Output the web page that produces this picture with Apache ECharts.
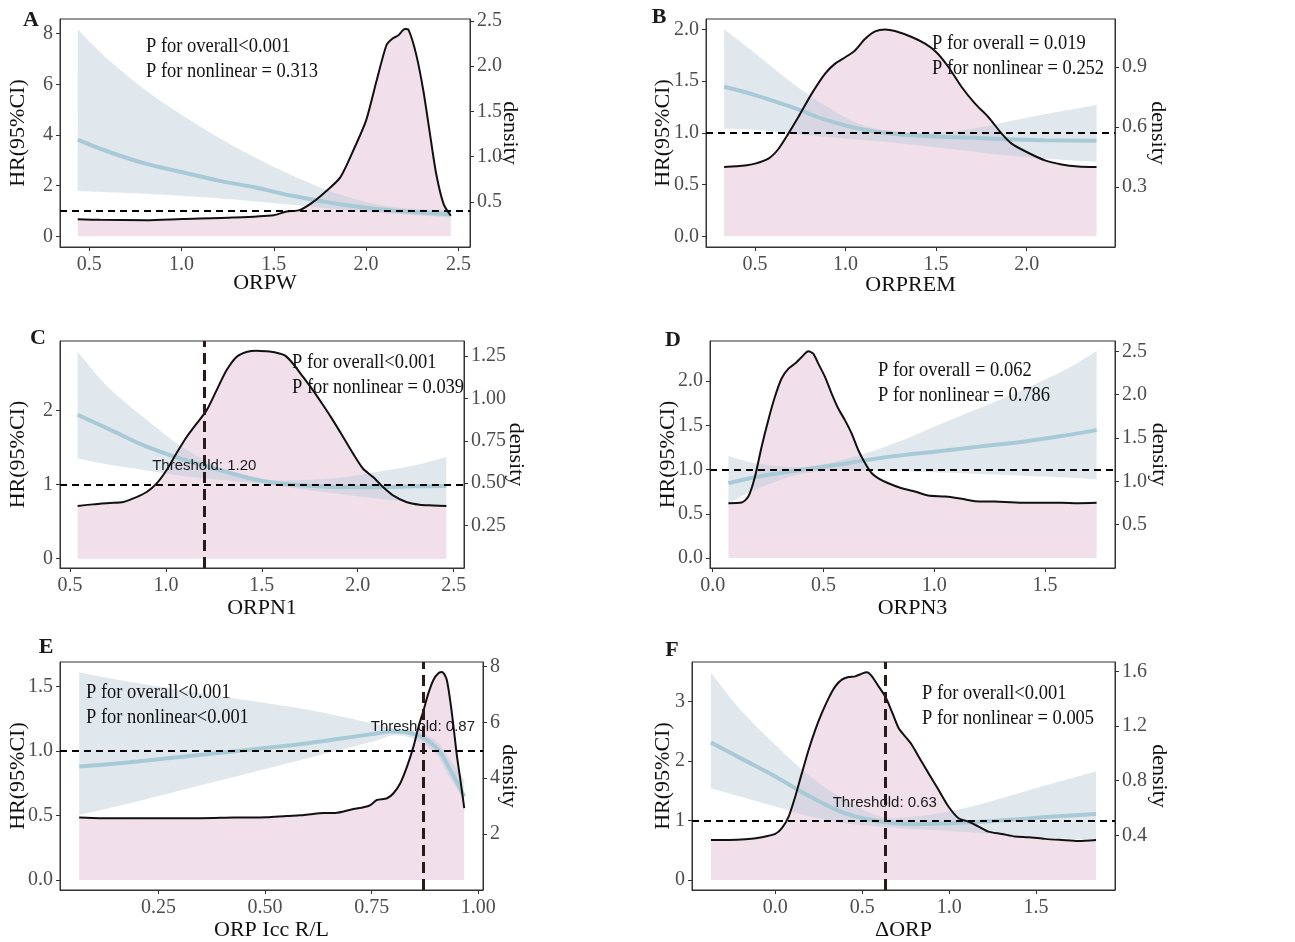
<!DOCTYPE html>
<html><head><meta charset="utf-8">
<script src="https://cdn.jsdelivr.net/npm/echarts@6/dist/echarts.min.js"></script>
<style>html,body{margin:0;padding:0;background:#fff}#c{width:1295px;height:942px}</style>
</head><body><div id="c"></div>
<script>
// ---------- Panel A : ORPW ----------
const A_x   = [0.437, 0.6, 0.8, 1.0, 1.2, 1.4, 1.6, 1.8, 2.0, 2.2, 2.459];
const A_hr  = [3.82, 3.35, 2.88, 2.54, 2.20, 1.93, 1.60, 1.34, 1.13, 0.99, 0.87];
const A_lo  = [1.79, 1.74, 1.68, 1.60, 1.50, 1.38, 1.25, 1.10, 0.96, 0.86, 0.74];
const A_hi  = [8.17, 7.00, 5.80, 4.80, 3.90, 3.10, 2.40, 1.80, 1.35, 1.12, 1.05];
const A_dx  = [0.437,0.558,0.81,1.0,1.28,1.5,1.57,1.64,1.71,1.786,1.86,1.93,2.0,2.057,2.11,2.14,2.175,2.21,2.23,2.27,2.31,2.346,2.38,2.42,2.459];
const A_dens= [0.308,0.30,0.297,0.31,0.326,0.352,0.393,0.408,0.493,0.622,0.77,1.065,1.40,1.84,2.23,2.30,2.34,2.41,2.40,2.14,1.73,1.25,0.807,0.474,0.345];
const A_xLabels = ['0.5','1.0','1.5','2.0','2.5'];
const A_yLabels = ['0','2','4','6','8'];
const A_dLabels = ['0.5','1.0','1.5','2.0','2.5'];
const A_p = ['P for overall<0.001', 'P for nonlinear = 0.313'];
const A_thr = null;

// ---------- Panel B : ORPREM ----------
const B_x   = [0.329, 0.5, 0.7, 0.9, 1.1, 1.3, 1.5, 1.7, 1.9, 2.1, 2.386];
const B_hr  = [1.445, 1.365, 1.25, 1.12, 1.03, 0.984, 0.965, 0.952, 0.937, 0.929, 0.923];
const B_lo  = [1.04, 1.03, 0.99, 0.96, 0.93, 0.90, 0.86, 0.82, 0.78, 0.75, 0.72];
const B_hi  = [2.00, 1.77, 1.49, 1.25, 1.07, 1.01, 1.00, 1.04, 1.11, 1.18, 1.27];
const B_dx  = [0.329,0.445,0.5,0.574,0.629,0.684,0.739,0.813,0.887,0.942,1.0,1.052,1.107,1.163,1.218,1.273,1.365,1.439,1.5,1.568,1.641,1.715,1.788,1.862,1.917,2.0,2.101,2.193,2.285,2.386];
const B_dens= [0.40,0.408,0.417,0.442,0.49,0.567,0.65,0.767,0.867,0.917,0.95,0.983,1.04,1.078,1.088,1.08,1.05,1.017,0.975,0.90,0.80,0.717,0.65,0.567,0.517,0.475,0.433,0.413,0.403,0.40];
const B_xLabels = ['0.5','1.0','1.5','2.0'];
const B_yLabels = ['0.0','0.5','1.0','1.5','2.0'];
const B_dLabels = ['0.3','0.6','0.9'];
const B_p = ['P for overall = 0.019', 'P for nonlinear = 0.252'];
const B_thr = null;

// ---------- Panel C : ORPN1 ----------
const C_x   = [0.54, 0.7, 0.9, 1.1, 1.3, 1.5, 1.7, 1.9, 2.1, 2.3, 2.462];
const C_hr  = [1.94, 1.75, 1.51, 1.33, 1.18, 1.05, 0.99, 0.966, 0.966, 0.975, 0.98];
const C_lo  = [1.35, 1.27, 1.19, 1.11, 1.06, 1.01, 0.94, 0.876, 0.81, 0.75, 0.70];
const C_hi  = [2.79, 2.31, 1.87, 1.48, 1.21, 1.07, 1.06, 1.09, 1.17, 1.26, 1.37];
const C_dx  = [0.54,0.62,0.708,0.778,0.847,0.90,0.951,1.003,1.054,1.108,1.16,1.212,1.264,1.316,1.368,1.42,1.472,1.524,1.576,1.62,1.663,1.715,1.767,1.82,1.871,1.924,1.976,2.028,2.08,2.132,2.184,2.253,2.323,2.392,2.462];
const C_dens= [0.365,0.375,0.383,0.389,0.418,0.448,0.497,0.576,0.674,0.772,0.851,0.929,1.047,1.165,1.244,1.273,1.281,1.277,1.269,1.253,1.204,1.126,1.047,0.959,0.870,0.772,0.674,0.585,0.536,0.477,0.428,0.389,0.373,0.369,0.365];
const C_xLabels = ['0.5','1.0','1.5','2.0','2.5'];
const C_yLabels = ['0','1','2'];
const C_dLabels = ['0.25','0.50','0.75','1.00','1.25'];
const C_p = ['P for overall<0.001', 'P for nonlinear = 0.039'];
const C_thr = 1.20;

// ---------- Panel D : ORPN3 ----------
const D_x   = [0.071, 0.2, 0.4, 0.6, 0.8, 1.0, 1.2, 1.4, 1.6, 1.733];
const D_hr  = [0.846, 0.92, 0.996, 1.07, 1.147, 1.203, 1.26, 1.316, 1.39, 1.447];
const D_lo  = [0.62, 0.78, 0.95, 0.99, 0.985, 0.97, 0.95, 0.93, 0.91, 0.89];
const D_hi  = [1.154, 1.07, 1.03, 1.12, 1.278, 1.485, 1.69, 1.90, 2.14, 2.342];
const D_dx  = [0.071,0.131,0.161,0.191,0.221,0.251,0.281,0.311,0.342,0.372,0.402,0.432,0.454,0.477,0.507,0.537,0.567,0.597,0.627,0.657,0.688,0.718,0.748,0.793,0.853,0.913,0.973,1.049,1.124,1.184,1.274,1.349,1.425,1.5,1.575,1.65,1.733];
const D_dens= [0.748,0.755,0.824,1.054,1.40,1.706,1.975,2.186,2.30,2.358,2.435,2.50,2.473,2.358,2.205,2.013,1.84,1.706,1.553,1.361,1.208,1.093,1.035,0.978,0.92,0.882,0.836,0.824,0.798,0.771,0.767,0.759,0.752,0.752,0.752,0.748,0.752];
const D_xLabels = ['0.0','0.5','1.0','1.5'];
const D_yLabels = ['0.0','0.5','1.0','1.5','2.0'];
const D_dLabels = ['0.5','1.0','1.5','2.0','2.5'];
const D_p = ['P for overall = 0.062', 'P for nonlinear = 0.786'];
const D_thr = null;

// ---------- Panel E : ORP Icc R/L ----------
const E_x   = [0.064, 0.2, 0.4, 0.6, 0.75, 0.8, 0.85, 0.9, 0.93, 0.967];
const E_hr  = [0.879, 0.918, 0.988, 1.06, 1.13, 1.15, 1.13, 1.03, 0.88, 0.646];
const E_lo  = [0.504, 0.608, 0.776, 0.944, 1.07, 1.12, 1.09, 0.98, 0.81, 0.62];
const E_hi  = [1.608, 1.526, 1.422, 1.319, 1.215, 1.18, 1.16, 1.08, 0.95, 0.776];
const E_dx  = [0.064,0.113,0.191,0.270,0.348,0.426,0.504,0.551,0.582,0.606,0.637,0.661,0.684,0.707,0.731,0.747,0.762,0.786,0.801,0.817,0.833,0.848,0.86,0.872,0.883,0.895,0.907,0.915,0.926,0.938,0.95,0.958,0.967];
const E_dens= [2.59,2.57,2.57,2.57,2.57,2.59,2.60,2.65,2.67,2.71,2.75,2.75,2.81,2.90,2.96,3.04,3.22,3.28,3.46,3.82,4.42,5.13,5.85,6.45,7.04,7.52,7.76,7.80,7.52,6.33,4.78,3.94,2.93];
const E_xLabels = ['0.25','0.50','0.75','1.00'];
const E_yLabels = ['0.0','0.5','1.0','1.5'];
const E_dLabels = ['2','4','6','8'];
const E_p = ['P for overall<0.001', 'P for nonlinear<0.001'];
const E_thr = 0.87;

// ---------- Panel F : ΔORP ----------
const F_x   = [-0.37, -0.2, 0.0, 0.2, 0.4, 0.6, 0.8, 1.0, 1.2, 1.4, 1.6, 1.845];
const F_hr  = [2.31, 2.047, 1.739, 1.402, 1.122, 0.981, 0.937, 0.953, 0.981, 1.021, 1.066, 1.11];
const F_lo  = [1.542, 1.402, 1.234, 1.066, 0.953, 0.897, 0.852, 0.824, 0.785, 0.74, 0.701, 0.673];
const F_hi  = [3.48, 2.86, 2.27, 1.739, 1.346, 1.066, 1.066, 1.15, 1.29, 1.458, 1.626, 1.823];
const F_dx  = [-0.37,-0.268,-0.172,-0.077,0.0,0.038,0.077,0.115,0.153,0.192,0.23,0.268,0.307,0.345,0.383,0.421,0.46,0.498,0.527,0.556,0.594,0.632,0.67,0.709,0.747,0.785,0.824,0.881,0.939,0.996,1.054,1.111,1.169,1.226,1.303,1.379,1.456,1.552,1.648,1.743,1.845];
const F_dens= [0.366,0.366,0.371,0.386,0.41,0.452,0.537,0.684,0.855,1.026,1.172,1.295,1.404,1.49,1.539,1.558,1.563,1.583,1.593,1.563,1.49,1.417,1.307,1.185,1.124,1.063,0.977,0.855,0.733,0.611,0.525,0.501,0.464,0.427,0.41,0.391,0.386,0.374,0.366,0.359,0.366];
const F_xLabels = ['0.0','0.5','1.0','1.5'];
const F_yLabels = ['0','1','2','3'];
const F_dLabels = ['0.4','0.8','1.2','1.6'];
const F_p = ['P for overall<0.001', 'P for nonlinear = 0.005'];
const F_thr = 0.63;

const panels = [
  {id:'A', xName:'ORPW', x:A_x, hr:A_hr, lo:A_lo, hi:A_hi, dx:A_dx, dens:A_dens, xL:A_xLabels, yL:A_yLabels, dL:A_dLabels, p:A_p, thr:A_thr,
   box:[60,19,410,228], xr:[0.341,2.563], yr:[-0.42,8.58], dr:[0,2.52], gaps:[25,31,29], letter:[31,20], pAt:[146,46], thrY:null},
  {id:'B', xName:'ORPREM', x:B_x, hr:B_hr, lo:B_lo, hi:B_hi, dx:B_dx, dens:B_dens, xL:B_xLabels, yL:B_yLabels, dL:B_dLabels, p:B_p, thr:B_thr,
   box:[706,19,409,228], xr:[0.229,2.488], yr:[-0.103,2.10], dr:[0,1.14], gaps:[27,32,32], letter:[659,17], pAt:[932,43], thrY:null},
  {id:'C', xName:'ORPN1', x:C_x, hr:C_hr, lo:C_lo, hi:C_hi, dx:C_dx, dens:C_dens, xL:C_xLabels, yL:C_yLabels, dL:C_dLabels, p:C_p, thr:C_thr,
   box:[60,341,404,227], xr:[0.448,2.554], yr:[-0.126,2.935], dr:[0,1.338], gaps:[29,31,41], letter:[38,338], pAt:[292,362], thrY:1.25},
  {id:'D', xName:'ORPN3', x:D_x, hr:D_hr, lo:D_lo, hi:D_hi, dx:D_dx, dens:D_dens, xL:D_xLabels, yL:D_yLabels, dL:D_dLabels, p:D_p, thr:D_thr,
   box:[710,341,405,227], xr:[-0.012,1.816], yr:[-0.113,2.455], dr:[0,2.619], gaps:[29,31,33], letter:[673,340], pAt:[878,370], thrY:null},
  {id:'E', xName:'ORP Icc R/L', x:E_x, hr:E_hr, lo:E_lo, hi:E_hi, dx:E_dx, dens:E_dens, xL:E_xLabels, yL:E_yLabels, dL:E_dLabels, p:E_p, thr:E_thr,
   box:[60,662,423,228], xr:[0.019,1.011], yr:[-0.078,1.689], dr:[0,8.155], gaps:[29,31,15], letter:[46,647], pAt:[86,692], thrY:1.19},
  {id:'F', xName:'\u0394ORP', x:F_x, hr:F_hr, lo:F_lo, hi:F_hi, dx:F_dx, dens:F_dens, xL:F_xLabels, yL:F_yLabels, dL:F_dLabels, p:F_p, thr:F_thr,
   box:[692,662,423,228], xr:[-0.479,1.954], yr:[-0.168,3.662], dr:[0,1.668], gaps:[29,18,33], letter:[672,650], pAt:[922,693], thrY:1.30}
];

const SERIF = "'Liberation Serif','Times New Roman',serif";
const SANS = "'Liberation Sans Narrow','Liberation Sans',Arial,sans-serif";
const AX = '#333333';

function vals(labels){ return labels.map(Number); }
function fmt(labels){ return v => { const s = labels.find(l => Math.abs(parseFloat(l) - v) < 1e-6); return s === undefined ? '' : s; }; }
function pairs(xs, ys){ return xs.map((x, k) => [x, ys[k]]); }

// Catmull-Rom -> cubic bezier through pixel points (rendering only)
function curveCmds(pts){
  let d = '';
  for (let k = 0; k < pts.length - 1; k++) {
    const p0 = pts[k-1] || pts[k], p1 = pts[k], p2 = pts[k+1], p3 = pts[k+2] || pts[k+1];
    const t = 1/6;
    const c1 = [p1[0] + (p2[0]-p0[0])*t, p1[1] + (p2[1]-p0[1])*t];
    const c2 = [p2[0] - (p3[0]-p1[0])*t, p2[1] - (p3[1]-p1[1])*t];
    d += ' C' + c1[0].toFixed(2) + ',' + c1[1].toFixed(2) + ' ' + c2[0].toFixed(2) + ',' + c2[1].toFixed(2) + ' ' + p2[0].toFixed(2) + ',' + p2[1].toFixed(2);
  }
  return d;
}

function axisCommon(labels, margin){
  return {
    axisLine:{show:true, onZero:false, lineStyle:{color:AX, width:1}},
    axisTick:{show:true, length:4, customValues:vals(labels), lineStyle:{color:AX, width:1}},
    axisLabel:{customValues:vals(labels), formatter:fmt(labels), margin:margin, color:'#4d4d4d', fontSize:20, fontFamily:SERIF},
    splitLine:{show:false},
    nameMoveOverlap:false
  };
}

const grid = [], xAxis = [], yAxis = [], series = [], graphic = [];

panels.forEach((P, i) => {
  grid.push({left:P.box[0], top:P.box[1], width:P.box[2], height:P.box[3], show:true, borderColor:AX, borderWidth:1, backgroundColor:'transparent', containLabel:false, outerBoundsMode:'none'});
  const nameStyle = {color:'#111', fontSize:22, fontFamily:SERIF};
  xAxis.push(Object.assign({type:'value', gridIndex:i, min:P.xr[0], max:P.xr[1], name:P.xName, nameLocation:'middle', nameGap:P.gaps[0], nameTextStyle:nameStyle}, axisCommon(P.xL, 8)));
  yAxis.push(Object.assign({type:'value', gridIndex:i, position:'left', min:P.yr[0], max:P.yr[1], name:'HR(95%CI)', nameLocation:'middle', nameRotate:90, nameGap:P.gaps[1], nameTextStyle:nameStyle}, axisCommon(P.yL, 7)));
  yAxis.push(Object.assign({type:'value', gridIndex:i, position:'right', min:P.dr[0], max:P.dr[1], name:'density', nameLocation:'middle', nameRotate:-90, nameGap:P.gaps[2], nameTextStyle:nameStyle}, axisCommon(P.dL, 7)));

  const yl = 2*i, yr = 2*i + 1;
  // density value that sits at HR = 0 (the fill starts from HR = 0)
  const origin = P.dr[0] + (0 - P.yr[0]) / (P.yr[1] - P.yr[0]) * (P.dr[1] - P.dr[0]);

  series.push({type:'line', name:P.id+'-densfill', xAxisIndex:i, yAxisIndex:yr, data:pairs(P.dx, P.dens), smooth:0.25, showSymbol:false, symbol:'none', silent:true,
    lineStyle:{width:0, opacity:0}, areaStyle:{color:'#f1dfea', opacity:1, origin:origin}, z:1});

  // confidence band as one filled path, positioned by the axes (api.coord)
  series.push({type:'custom', name:P.id+'-band', coordinateSystem:'cartesian2d', xAxisIndex:i, yAxisIndex:yl, silent:true, z:2,
    data:P.x.map((x,k)=>[x, P.lo[k], P.hi[k]]),
    encode:{x:0, y:[1,2]},
    renderItem:(params, api) => {
      if (params.dataIndex !== 0) return null;
      const up = P.x.map((x,k)=>api.coord([x, P.hi[k]]));
      const dn = P.x.map((x,k)=>api.coord([x, P.lo[k]])).reverse();
      const d = 'M' + up[0][0] + ',' + up[0][1] + curveCmds(up) + ' L' + dn[0][0] + ',' + dn[0][1] + curveCmds(dn) + ' Z';
      return {type:'path', shape:{pathData:d}, style:{fill:'rgba(186,205,218,0.45)'}};
    }});

  series.push({type:'line', name:P.id+'-hr', xAxisIndex:i, yAxisIndex:yl, data:pairs(P.x, P.hr), smooth:0.4, showSymbol:false, symbol:'none', silent:true,
    lineStyle:{width:4, color:'#a8cad6'}, z:3});
  series.push({type:'line', name:P.id+'-dens', xAxisIndex:i, yAxisIndex:yr, data:pairs(P.dx, P.dens), smooth:0.25, showSymbol:false, symbol:'none', silent:true,
    lineStyle:{width:2, color:'#111'}, z:4});

  const mlData = [{yAxis:1, lineStyle:{color:'#000', width:1.8, type:[7,5]}}];
  if (P.thr !== null) mlData.push({xAxis:P.thr, lineStyle:{color:'#2a1a1a', width:3, type:[11,6]}});
  const helper = {type:'line', name:P.id+'-ref', xAxisIndex:i, yAxisIndex:yl, data:[[P.x[0], P.hr[0]]], showSymbol:false, symbol:'none', silent:true,
    lineStyle:{opacity:0}, z:5,
    markLine:{silent:true, symbol:'none', animation:false, label:{show:false}, data:mlData}};
  if (P.thr !== null) {
    helper.markPoint = {silent:true, animation:false, symbol:'circle', symbolSize:1, itemStyle:{color:'rgba(0,0,0,0)'},
      label:{show:true, position:'inside', color:'#1a1a1a', fontSize:15, fontFamily:SANS},
      data:[{coord:[P.thr, P.thrY], value:'Threshold: ' + P.thr.toFixed(2), label:{formatter:'Threshold: ' + P.thr.toFixed(2)}}]};
  }
  series.push(helper);

  graphic.push({type:'text', x:P.letter[0], y:P.letter[1], silent:true, z:100,
    style:{text:P.id, fill:'#1a1a1a', font:'bold 22px ' + SERIF, align:'center', verticalAlign:'middle'}});
  P.p.forEach((t, k) => graphic.push({type:'text', x:P.pAt[0], y:P.pAt[1] + k*25, scaleX:0.88, silent:true, z:100,
    style:{text:t, fill:'#111', font:'21px ' + SERIF, align:'left', verticalAlign:'middle'}}));
});

const chart = echarts.init(document.getElementById('c'), null, {renderer:'canvas'});
chart.setOption({animation:false, backgroundColor:'#ffffff', grid, xAxis, yAxis, series, graphic});
</script>
</body></html>
